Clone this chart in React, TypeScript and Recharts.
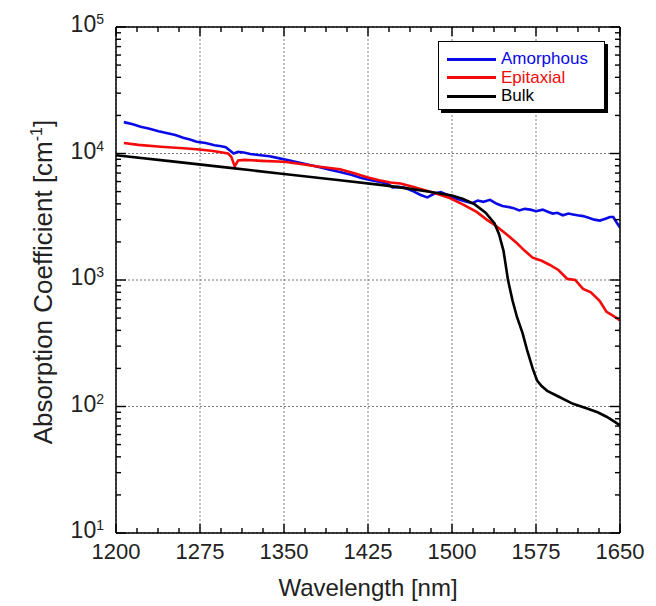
import React from "react";
import { LineChart, Line, XAxis, YAxis, CartesianGrid, Legend, Label } from "recharts";

const FONT = '"Liberation Sans", Arial, Helvetica, sans-serif';

// axis ticks
const xTicks = [1200, 1275, 1350, 1425, 1500, 1575, 1650];
const xMinorTicks = [
  1218.75, 1237.5, 1256.25, 1293.75, 1312.5, 1331.25, 1368.75, 1387.5, 1406.25,
  1443.75, 1462.5, 1481.25, 1518.75, 1537.5, 1556.25, 1593.75, 1612.5, 1631.25,
];
const yTicks = [10, 100, 1000, 10000, 100000];
const yMinorTicks = [10, 100, 1000, 10000].flatMap((d) => [2, 3, 4, 5, 6, 7, 8, 9].map((m) => d * m));
const seriesOrder = ["Amorphous", "Epitaxial", "Bulk"];

// Amorphous
const amorphousWl = [
  1207, 1215, 1222, 1230, 1238, 1245, 1253, 1260, 1266, 1272, 1280, 1288, 1294, 1298, 1302, 1305,
  1309, 1314, 1320, 1329, 1337, 1346, 1355, 1364, 1373, 1382, 1391, 1400, 1410, 1419, 1428, 1436,
  1442, 1447, 1452, 1458, 1466, 1472, 1478, 1484, 1490, 1496, 1502, 1507, 1513, 1518, 1523, 1528,
  1534, 1540, 1545, 1549, 1555, 1560, 1565, 1570, 1575, 1581, 1586, 1590, 1594, 1599, 1604, 1608,
  1612, 1617, 1622, 1627, 1632, 1637, 1641, 1644, 1647, 1650,
];
const amorphousAbs = [
  17700, 17000, 16300, 15700, 15000, 14500, 14000, 13300, 12900, 12400, 12100, 11600, 11400, 11200, 10500, 10000,
  10300, 10200, 9900, 9700, 9500, 9150, 8800, 8450, 8100, 7800, 7450, 7150, 6800, 6400, 6150, 5950,
  5800, 5400, 5450, 5350, 5000, 4700, 4500, 4800, 4950, 4700, 4450, 4300, 4150, 4050, 4250, 4150,
  4300, 4000, 3850, 3800, 3700, 3550, 3650, 3600, 3500, 3600, 3450, 3350, 3400, 3250, 3350, 3300,
  3250, 3200, 3100, 3000, 2950, 3050, 3150, 3150, 2850, 2600,
];

// Epitaxial
const epitaxialWl = [
  1207, 1220, 1240, 1260, 1272, 1285, 1295, 1300, 1303, 1306, 1309, 1315, 1330, 1350, 1365, 1380,
  1400, 1412, 1425, 1435, 1445, 1454, 1465, 1475, 1485, 1498, 1510, 1522, 1531, 1540, 1550, 1558,
  1565, 1572, 1580, 1587, 1595, 1603, 1610, 1617, 1624, 1632, 1638, 1644, 1650,
];
const epitaxialAbs = [
  12100, 11700, 11300, 11000, 10800, 10500, 10200, 10000, 9400, 7900, 8800, 8900, 8750, 8600, 8250, 7900,
  7500, 7000, 6450, 6150, 5900, 5800, 5450, 5150, 4850, 4450, 3950, 3450, 3000, 2650, 2250, 1950,
  1700, 1500, 1420, 1320, 1200, 1020, 1000, 850, 800, 680, 560, 520, 480,
];

// Bulk
const bulkWl = [
  1200, 1250, 1300, 1350, 1400, 1440, 1460, 1480, 1500, 1510, 1520, 1530, 1538, 1542, 1546, 1550,
  1554, 1558, 1563, 1567, 1572, 1576, 1580, 1585, 1595, 1608, 1620, 1630, 1638, 1645, 1650,
];
const bulkAbs = [
  9700, 8670, 7730, 6890, 6140, 5600, 5300, 4980, 4650, 4380, 3980, 3400, 2800, 2300, 1700, 1000,
  690, 510, 380, 280, 200, 160, 145, 133, 120, 105, 97, 90, 83, 76, 71,
];

const toPoints = (wl: number[], abs: number[]) => wl.map((w, i) => ({ wl: w, abs: abs[i] }));

const xAllTicks = [...xTicks, ...xMinorTicks].sort((a, b) => a - b);
const yAllTicks = [...yTicks, ...yMinorTicks].sort((a, b) => a - b);

// tick marks as thin filled rects (w = horizontal extent, h = vertical extent)
const MarkRect = ({ x, y, w, h }: any) => (
  <rect x={x} y={y} width={w} height={h} fill="#000" stroke="none" />
);

const BottomTick = ({ x, y, payload }: any) => {
  const cx = Number(x);
  const cy = Number(y);
  const major = xTicks.includes(payload.value);
  const len = major ? 9 : 5;
  return (
    <g>
      <MarkRect x={cx - 0.7} y={cy - len} w={1.4} h={len} />
      {major && (
        <text x={cx} y={cy + 10} dy="0.71em" textAnchor="middle" fontSize={22} fontFamily={FONT} fill="#222">
          {payload.value}
        </text>
      )}
    </g>
  );
};

const LeftTick = ({ x, y, payload }: any) => {
  const cx = Number(x);
  const cy = Number(y);
  const major = yTicks.includes(payload.value);
  const len = major ? 10 : 5;
  const exp = Math.round(Math.log10(payload.value));
  return (
    <g>
      <MarkRect x={cx} y={cy - 0.7} w={len} h={1.4} />
      {major && (
        <text x={cx - 12} y={cy} textAnchor="end" fontFamily={FONT} fill="#222">
          <tspan fontSize={23} dy={5}>10</tspan>
          <tspan fontSize={14} dy={-8}>{exp}</tspan>
        </text>
      )}
    </g>
  );
};

const TopTick = ({ x, y, payload }: any) => {
  const len = xTicks.includes(payload.value) ? 9 : 5;
  return <MarkRect x={Number(x) - 0.7} y={Number(y)} w={1.4} h={len} />;
};

const RightTick = ({ x, y, payload }: any) => {
  const len = yTicks.includes(payload.value) ? 10 : 5;
  return <MarkRect x={Number(x) - len} y={Number(y) - 0.7} w={len} h={1.4} />;
};

const YTitle = ({ viewBox }: any) => {
  const cx = viewBox.x + 34;
  const cy = viewBox.y + viewBox.height / 2 + 2;
  return (
    <text
      x={cx}
      y={cy}
      transform={`rotate(-90 ${cx} ${cy})`}
      textAnchor="middle"
      fontFamily={FONT}
      fontSize={26}
      fill="#222"
    >
      Absorption Coefficient [cm
      <tspan fontSize={16} dy={-10}>-1</tspan>
      <tspan dy={10}>]</tspan>
    </text>
  );
};

const LegendBox = ({ payload }: any) => {
  const items = (payload || [])
    .filter((p: any) => seriesOrder.includes(p.value))
    .sort((a: any, b: any) => seriesOrder.indexOf(a.value) - seriesOrder.indexOf(b.value));
  return (
    <div
      style={{
        width: 167,
        height: 69,
        boxSizing: "border-box",
        border: "1.5px solid #000",
        boxShadow: "3px 3px 0 #000",
        background: "#fff",
        padding: "8px 0 0 8px",
        fontFamily: FONT,
      }}
    >
      {items.map((entry: any) => (
        <div key={entry.value} style={{ display: "flex", alignItems: "center", height: 18.5 }}>
          <span style={{ display: "inline-block", width: 49, height: 3, background: entry.color }} />
          <span style={{ marginLeft: 5, color: entry.color, fontSize: 17, lineHeight: "18px" }}>{entry.value}</span>
        </div>
      ))}
    </div>
  );
};

const frame = { stroke: "#000", strokeWidth: 1.5 };

export default function App() {
  const bulkPoints = toPoints(bulkWl, bulkAbs);
  return (
    <LineChart width={640} height={595} margin={{ top: 18, right: 27, bottom: 0, left: 10 }}>
      <CartesianGrid
        stroke="#7a7a7a"
        strokeDasharray="2 2"
        strokeWidth={1}
        horizontalValues={yTicks}
        verticalValues={xTicks}
      />
      <XAxis
        dataKey="wl"
        type="number"
        domain={[1200, 1650]}
        allowDataOverflow
        ticks={xAllTicks}
        interval={0}
        height={70}
        tickLine={false}
        tickSize={0}
        tickMargin={0}
        axisLine={frame}
        tick={BottomTick}
      >
        <Label value="Wavelength [nm]" position="insideBottom" offset={7} fontSize={24} fill="#222" fontFamily={FONT} />
      </XAxis>
      <YAxis
        type="number"
        scale="log"
        domain={[10, 100000]}
        allowDataOverflow
        ticks={yAllTicks}
        interval={0}
        width={98}
        tickLine={false}
        tickSize={0}
        tickMargin={0}
        axisLine={frame}
        tick={LeftTick}
      >
        <Label content={<YTitle />} />
      </YAxis>

      {/* thin top and right axes: frame plus inward tick marks */}
      <XAxis
        xAxisId="top"
        orientation="top"
        dataKey="wl"
        type="number"
        domain={[1200, 1650]}
        allowDataOverflow
        ticks={xAllTicks}
        interval={0}
        height={1}
        tickLine={false}
        tickSize={0}
        tickMargin={0}
        axisLine={frame}
        tick={TopTick}
      />
      <YAxis
        yAxisId="right"
        orientation="right"
        type="number"
        scale="log"
        domain={[10, 100000]}
        allowDataOverflow
        ticks={yAllTicks}
        interval={0}
        width={1}
        tickLine={false}
        tickSize={0}
        tickMargin={0}
        axisLine={frame}
        tick={RightTick}
      />
      <Line
        xAxisId="top"
        yAxisId="right"
        data={bulkPoints}
        dataKey="abs"
        stroke="none"
        strokeWidth={0}
        dot={false}
        legendType="none"
        isAnimationActive={false}
      />

      <Legend
        layout="vertical"
        align="center"
        verticalAlign="middle"
        wrapperStyle={{ left: 430, top: 33, width: 172 }}
        content={<LegendBox />}
      />

      <Line
        name="Amorphous"
        data={toPoints(amorphousWl, amorphousAbs)}
        dataKey="abs"
        stroke="#0a0ae6"
        strokeWidth={2.6}
        dot={false}
        isAnimationActive={false}
      />
      <Line
        name="Epitaxial"
        data={toPoints(epitaxialWl, epitaxialAbs)}
        dataKey="abs"
        stroke="#f50a0a"
        strokeWidth={2.6}
        dot={false}
        isAnimationActive={false}
      />
      <Line
        name="Bulk"
        data={bulkPoints}
        dataKey="abs"
        stroke="#000"
        strokeWidth={2.6}
        dot={false}
        isAnimationActive={false}
      />
    </LineChart>
  );
}
